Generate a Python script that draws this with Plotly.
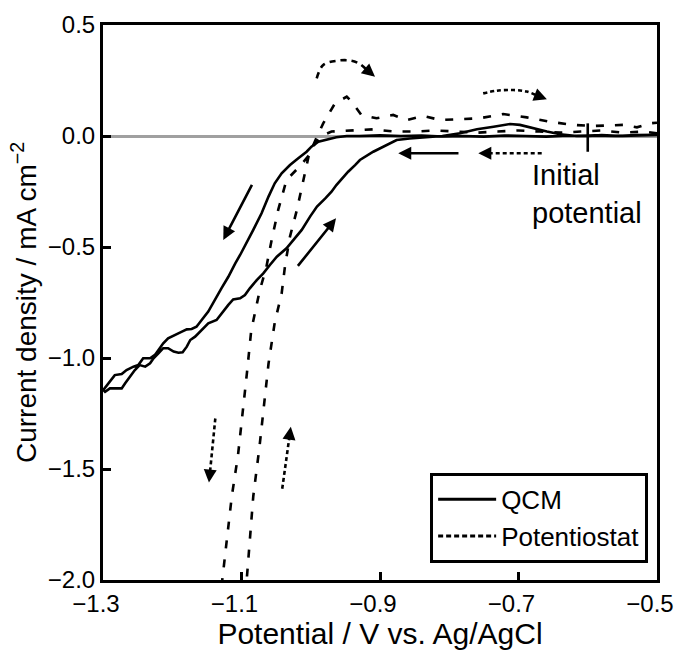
import math
import plotly.graph_objects as go

# ---------------- data ----------------
# QCM current density, in sweep order (start -0.5 V, cathodic sweep, return)
qcm_x = [-0.5, -0.52, -0.55, -0.58, -0.6, -0.63, -0.66, -0.69, -0.72, -0.75, -0.78, -0.81,
         -0.84, -0.87, -0.9, -0.93, -0.948, -0.963, -0.977, -0.989, -0.999, -1.006, -1.018,
         -1.030, -1.042, -1.052, -1.061, -1.071, -1.083, -1.0925, -1.102, -1.109, -1.119,
         -1.129, -1.138, -1.148, -1.1575, -1.165, -1.172, -1.179, -1.186, -1.196, -1.206,
         -1.213, -1.218, -1.225, -1.232, -1.242, -1.249, -1.256, -1.266, -1.273, -1.283,
         -1.290, -1.295, -1.2995,
         -1.297, -1.290, -1.283, -1.273, -1.268, -1.261, -1.254, -1.247, -1.239, -1.232,
         -1.227, -1.220, -1.213, -1.206, -1.198, -1.191, -1.185, -1.179, -1.174, -1.167,
         -1.1575, -1.148, -1.136, -1.129, -1.119, -1.112, -1.102, -1.095, -1.088, -1.078,
         -1.0685, -1.059, -1.049, -1.035, -1.025, -1.013, -1.001, -0.991, -0.979, -0.970,
         -0.963, -0.955, -0.946, -0.936, -0.929, -0.9097, -0.890, -0.876, -0.857, -0.833,
         -0.81, -0.7845, -0.760, -0.736, -0.712, -0.698, -0.679, -0.659, -0.640, -0.616,
         -0.59, -0.56, -0.53, -0.5]
qcm_y = [0.005, 0.003, 0.0, 0.004, 0.0, 0.002, -0.003, 0.0, 0.002, -0.003, 0.0, -0.002,
         0.002, 0.0, 0.003, 0.0, 0.0, -0.006, -0.015, -0.026, -0.048, -0.071, -0.100,
         -0.131, -0.168, -0.213, -0.273, -0.348, -0.423, -0.483, -0.536, -0.574, -0.634,
         -0.686, -0.739, -0.791, -0.829, -0.859, -0.869, -0.871, -0.881, -0.896, -0.911,
         -0.934, -0.956, -0.986, -1.001, -1.001, -1.032, -1.039, -1.054, -1.072, -1.077,
         -1.107, -1.129, -1.144,
         -1.152, -1.137, -1.137, -1.137, -1.114, -1.084, -1.054, -1.032, -1.039, -1.024,
         -1.001, -0.979, -0.956, -0.956, -0.971, -0.976, -0.974, -0.949, -0.919, -0.904,
         -0.874, -0.844, -0.829, -0.799, -0.761, -0.736, -0.731, -0.716, -0.686, -0.649,
         -0.619, -0.581, -0.544, -0.506, -0.468, -0.423, -0.363, -0.318, -0.281, -0.251,
         -0.221, -0.191, -0.161, -0.131, -0.108, -0.071, -0.041, -0.018, -0.011, -0.005,
         0.0, 0.012, 0.030, 0.042, 0.054, 0.050, 0.035, 0.020, 0.008, 0.0,
         0.003, 0.0, 0.004, 0.005]

# Potentiostat current density, in sweep order
pot_x = [-0.5, -0.52, -0.55, -0.58, -0.61, -0.64, -0.67, -0.70, -0.73, -0.76, -0.79, -0.82,
         -0.85, -0.88, -0.91, -0.94, -0.97, -0.985, -0.995, -1.0, -1.017, -1.035, -1.047,
         -1.056, -1.064, -1.074, -1.086, -1.092, -1.099, -1.105, -1.114, -1.127, -1.13,
         -1.094, -1.092, -1.083, -1.074, -1.067, -1.061, -1.052, -1.042, -1.037, -1.030,
         -1.020, -1.011, -1.003, -0.992, -0.982, -0.965, -0.948, -0.941, -0.927, -0.905,
         -0.881, -0.8615, -0.837, -0.813, -0.7845, -0.756, -0.722, -0.688, -0.6545, -0.621,
         -0.592, -0.549, -0.529, -0.51, -0.5]
pot_y = [0.012, 0.02, 0.015, 0.025, 0.02, 0.015, 0.02, 0.025, 0.02, 0.015, 0.02, 0.025,
         0.02, 0.02, 0.03, 0.025, 0.02, 0.0, -0.04, -0.078, -0.14, -0.198, -0.333,
         -0.461, -0.589, -0.70, -0.877, -1.063, -1.250, -1.437, -1.623, -1.987, -2.06,
         -2.06, -1.987, -1.623, -1.399, -1.213, -1.026, -0.840, -0.709, -0.581, -0.453,
         -0.333, -0.198, -0.09, -0.01, 0.057, 0.147, 0.177, 0.155, 0.095, 0.080,
         0.095, 0.072, 0.090, 0.072, 0.075, 0.080, 0.099, 0.084, 0.064, 0.050,
         0.045, 0.050, 0.039, 0.057, 0.06]

x_ticks = [-1.3, -1.1, -0.9, -0.7, -0.5]
y_ticks = [-2.0, -1.5, -1.0, -0.5, 0.0, 0.5]
x_range = [-1.3, -0.5]
y_range = [-2.0, 0.5]

# sweep-direction arrows: (tail_x, tail_y, tip_x, tip_y)
solid_arrows = [(-1.0838, -0.213, -1.1263, -0.468),
                (-1.0203, -0.592, -0.9635, -0.371),
                (-0.7845, -0.078, -0.8736, -0.078)]
dotted_arrows = [(-0.6665, -0.078, -0.758, -0.078),
                 (-1.1378, -1.2725, -1.147, -1.561),
                 (-1.0412, -1.589, -1.0288, -1.31)]
dashed_arc_x = [-0.9914, -0.982, -0.9625, -0.941, -0.929, -0.9072]
dashed_arc_y = [0.26, 0.32, 0.339, 0.339, 0.324, 0.267]
dotted_arc_x = [-0.751, -0.7315, -0.7075, -0.688, -0.659]
dotted_arc_y = [0.192, 0.204, 0.207, 0.2, 0.165]
initial_potential = -0.6
initial_mark_y = [0.057, -0.071]

# ---------------- layout constants ----------------
W, H = 678, 650
ML, MR, MT, MB = 103, 21, 25, 70
FONT = "Liberation Sans, Arial, sans-serif"
PX_PER_X = (W - ML - MR) / (x_range[1] - x_range[0])
PX_PER_Y = (H - MT - MB) / (y_range[1] - y_range[0])
HEAD_BACK = 11  # px

fig = go.Figure()

fig.add_trace(go.Scatter(x=qcm_x, y=qcm_y, mode="lines", name="QCM",
                         line=dict(color="black", width=2.6), showlegend=False))
fig.add_trace(go.Scatter(x=pot_x, y=pot_y, mode="lines", name="Potentiostat",
                         line=dict(color="black", width=2.6, dash="8px,11px"),
                         showlegend=False))
# legend entries
fig.add_trace(go.Scatter(x=[None], y=[None], mode="lines", name="QCM",
                         line=dict(color="black", width=3)))
fig.add_trace(go.Scatter(x=[None], y=[None], mode="lines", name="Potentiostat",
                         line=dict(color="black", width=3, dash="5px,3px")))


def back_point(tx, ty, px_, py_, dist):
    """point 'dist' pixels behind tip (tx,ty) in the direction of (px_,py_)."""
    dx = (px_ - tx) * PX_PER_X
    dy = (py_ - ty) * PX_PER_Y
    L = math.hypot(dx, dy)
    return tx + dx / L * dist / PX_PER_X, ty + dy / L * dist / PX_PER_Y


annotations = []


def head(tip_x, tip_y, from_x, from_y):
    bx, by = back_point(tip_x, tip_y, from_x, from_y, HEAD_BACK)
    annotations.append(dict(x=tip_x, y=tip_y, ax=bx, ay=by, xref="x", yref="y",
                            axref="x", ayref="y", showarrow=True, text="",
                            arrowhead=2, arrowsize=1.0, arrowwidth=2.6,
                            arrowcolor="black"))
    return bx, by


for (ax_, ay_, tx, ty) in solid_arrows:
    annotations.append(dict(x=tx, y=ty, ax=ax_, ay=ay_, xref="x", yref="y",
                            axref="x", ayref="y", showarrow=True, text="",
                            arrowhead=2, arrowsize=1.0, arrowwidth=2.6,
                            arrowcolor="black"))

for (ax_, ay_, tx, ty) in dotted_arrows:
    bx, by = head(tx, ty, ax_, ay_)
    fig.add_trace(go.Scatter(x=[ax_, bx], y=[ay_, by], mode="lines", showlegend=False,
                             line=dict(color="black", width=2.6, dash="4px,3px"),
                             hoverinfo="skip"))

# curved arrows
bx, by = head(dashed_arc_x[-1], dashed_arc_y[-1], dashed_arc_x[-2], dashed_arc_y[-2])
fig.add_trace(go.Scatter(x=dashed_arc_x[:-1] + [bx], y=dashed_arc_y[:-1] + [by],
                         mode="lines", showlegend=False, hoverinfo="skip",
                         line=dict(color="black", width=2.6, dash="6px,5px",
                                   shape="spline")))
bx, by = head(dotted_arc_x[-1], dotted_arc_y[-1], dotted_arc_x[-2], dotted_arc_y[-2])
fig.add_trace(go.Scatter(x=dotted_arc_x[:-1] + [bx], y=dotted_arc_y[:-1] + [by],
                         mode="lines", showlegend=False, hoverinfo="skip",
                         line=dict(color="black", width=2.6, dash="4px,3px",
                                   shape="spline")))

# initial potential marker and label
fig.add_shape(type="line", x0=initial_potential, x1=initial_potential,
              y0=initial_mark_y[0], y1=initial_mark_y[1], xref="x", yref="y",
              line=dict(color="black", width=2.6))
annotations.append(dict(x=-0.683, y=-0.262, xref="x", yref="y", xanchor="left",
                        yanchor="middle", align="left", showarrow=False,
                        text="Initial<br>potential",
                        font=dict(family=FONT, size=29, color="black")))

axis_common = dict(showline=True, linewidth=3, linecolor="black", mirror=True,
                   ticks="inside", ticklen=8, tickwidth=3, tickcolor="black",
                   showgrid=False, automargin=False, tickformat=".1f",
                   tickfont=dict(family=FONT, size=24, color="black"))

fig.update_layout(
    width=W, height=H,
    margin=dict(l=ML, r=MR, t=MT, b=MB, autoexpand=False),
    paper_bgcolor="white", plot_bgcolor="white",
    font=dict(family=FONT, color="black"),
    xaxis=dict(range=x_range, tickvals=x_ticks, zeroline=False,
               ticklabelshift=-7,
               title=dict(text="Potential / V vs. Ag/AgCl",
                          font=dict(family=FONT, size=30, color="black"),
                          standoff=6),
               **axis_common),
    yaxis=dict(range=y_range, tickvals=y_ticks, zeroline=True,
               zerolinecolor="#a0a0a0", zerolinewidth=2.5,
               title=dict(text="Current density / mA cm<sup>\u22122</sup>",
                          font=dict(family=FONT, size=28, color="black"),
                          standoff=4),
               **axis_common),
    legend=dict(x=0.984, y=0.031, xanchor="right", yanchor="bottom",
                bgcolor="white", bordercolor="black", borderwidth=3,
                itemwidth=58,
                font=dict(family=FONT, size=26, color="black"),
                tracegroupgap=0),
    annotations=annotations,
    showlegend=True,
)

fig.write_html("out.html")
